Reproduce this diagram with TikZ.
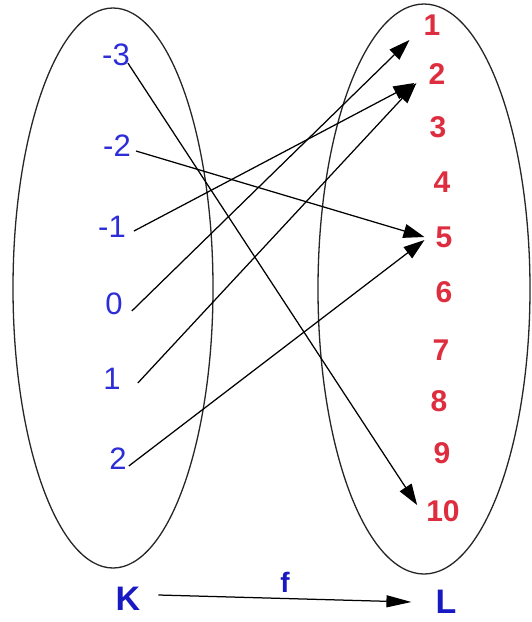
\documentclass[tikz,border=0pt]{standalone}
\usepackage{fontspec}
\setmainfont{Liberation Sans}
\usepackage{xcolor}
\usepackage{tikz}
\usetikzlibrary{arrows.meta,positioning}
\definecolor{domainblue}{RGB}{45,45,215}
\definecolor{setblue}{RGB}{25,25,195}
\definecolor{rangered}{RGB}{222,45,62}
\tikzset{
  setoval/.style={draw=black!85,line width=1.3pt},
  domainlabel/.style={text=domainblue,inner sep=0pt,font=\fontsize{31}{33}\selectfont},
  rangelabel/.style={text=rangered,inner sep=0pt,font=\fontsize{30}{32}\selectfont\bfseries},
  setname/.style={text=setblue,inner sep=0pt,font=\fontsize{34}{36}\selectfont\bfseries},
  maparrow/.style={-{Triangle[length=21pt,width=14pt]},line width=1.25pt},
  funcarrow/.style={-{Triangle[length=25pt,width=12pt]},line width=1.25pt}
}
\begin{document}
\begin{tikzpicture}[x=1pt,y=-1pt]
  \useasboundingbox[fill=white] (0,0) rectangle (532,622);
  \draw[setoval] (113,288) ellipse [x radius=100,y radius=280];
  \draw[setoval] (424,289) ellipse [x radius=106,y radius=285];

  \node[domainlabel] (kM3) at (116,55) {-3};
  \node[domainlabel] (kM2) at (117,146) {-2};
  \node[domainlabel] (kM1) at (112,227) {-1};
  \node[domainlabel] (k0) at (114,304) {0};
  \node[domainlabel] (k1) at (112,379) {1};
  \node[domainlabel] (k2) at (118,459) {2};

  \node[rangelabel] (l1) at (432,25) {1};
  \node[rangelabel] (l2) at (437,74) {2};
  \node[rangelabel] (l3) at (438,127) {3};
  \node[rangelabel] (l4) at (442,182) {4};
  \node[rangelabel] (l5) at (444,237) {5};
  \node[rangelabel] (l6) at (444,292) {6};
  \node[rangelabel] (l7) at (441,350) {7};
  \node[rangelabel] (l8) at (439,401) {8};
  \node[rangelabel] (l9) at (442,453) {9};
  \node[rangelabel] (l10) at (443,511) {10};

  \node[setname] (setK) at (128,599) {K};
  \node[setname] (setL) at (446,602) {L};

  \draw[maparrow] ([shift={(-2,-3)}]kM3.south east) -- ([shift={(-9,-6)}]l10.west);
  \draw[maparrow] ([shift={(5,5)}]kM2.east) -- ([shift={(-11,0)}]l5.west);
  \draw[maparrow] ([shift={(8,4)}]kM1.east) -- ([shift={(-14,9)}]l2.west);
  \draw[maparrow] ([shift={(9,7)}]k0.east) -- ([shift={(-14,15)}]l1.west);
  \draw[maparrow] ([shift={(17,4)}]k1.east) -- ([shift={(-12,9)}]l2.west);
  \draw[maparrow] ([shift={(2,7)}]k2.east) -- ([shift={(-11,3)}]l5.west);

  \draw[funcarrow] ([shift={(18,-4)}]setK.east) -- ([shift={(-24,0)}]setL.west)
    node[midway,above=2pt,text=setblue,font=\fontsize{28}{30}\selectfont\bfseries] {f};
\end{tikzpicture}
\end{document}
